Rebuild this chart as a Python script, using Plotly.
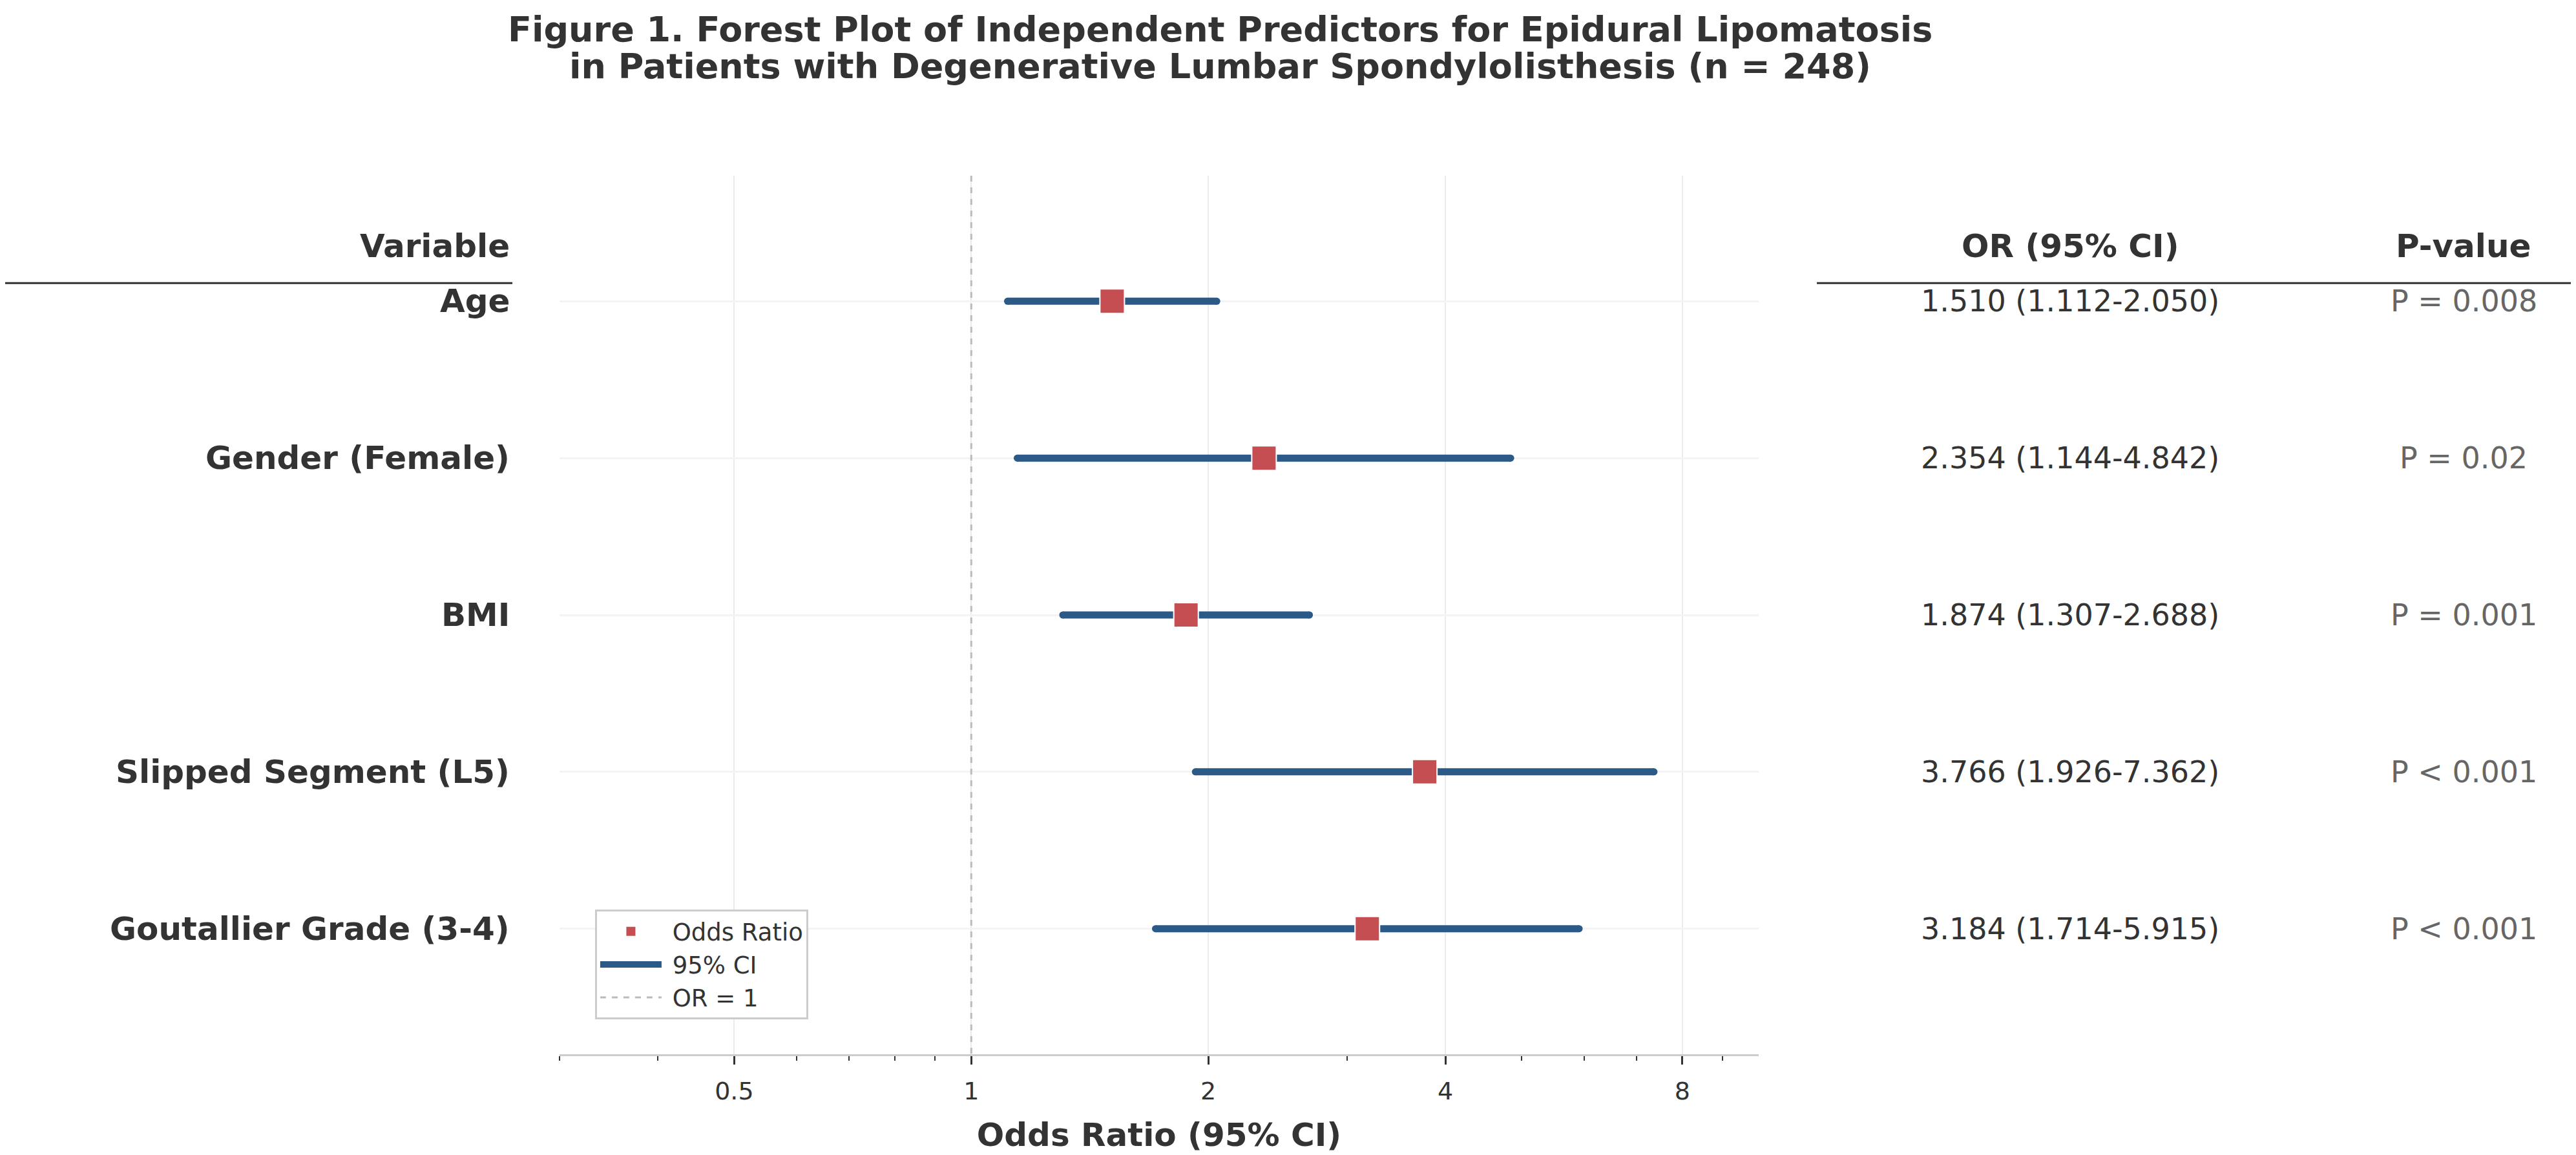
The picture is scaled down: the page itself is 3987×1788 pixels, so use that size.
import numpy as np
import plotly.graph_objects as go

# data
variables = ["Age", "Gender (Female)", "BMI", "Slipped Segment (L5)", "Goutallier Grade (3-4)"]
odds_ratio = [1.510, 2.354, 1.874, 3.766, 3.184]
ci_low = [1.112, 1.144, 1.307, 1.926, 1.714]
ci_high = [2.050, 4.842, 2.688, 7.362, 5.915]
p_text = ["P = 0.008", "P = 0.02", "P = 0.001", "P < 0.001", "P < 0.001"]
x_ticks = [0.5, 1, 2, 4, 8]
x_minor = [0.3, 0.4, 0.6, 0.7, 0.8, 0.9, 3, 5, 6, 7, 9]

RED = "#C44E52"
BLUE = "#2C5A88"
DARK = "#333333"
FONT = "DejaVu Sans"
NB = "\u00a0"  # small gap between legend symbol and label

rows = list(range(len(variables)))
y_lo, y_hi = -0.8, 4.8

fig = go.Figure()

# reference line at OR = 1
fig.add_trace(go.Scatter(
    x=[1, 1], y=[y_lo, y_hi], mode="lines", name=NB + "OR = 1",
    line=dict(color="#bbbbbb", width=3, dash="dash"),
))

# confidence intervals
ci_x, ci_y = [], []
for lo, hi, r in zip(ci_low, ci_high, rows):
    ci_x += [lo, hi, None]
    ci_y += [r, r, None]
fig.add_trace(go.Scatter(
    x=ci_x, y=ci_y, mode="lines", name=NB + "95% CI",
    line=dict(color=BLUE, width=11),
))
# round caps on the CI ends
fig.add_trace(go.Scatter(
    x=ci_low + ci_high, y=rows + rows, mode="markers", showlegend=False,
    marker=dict(color=BLUE, size=11, symbol="circle"), hoverinfo="skip",
))

# point estimates
fig.add_trace(go.Scatter(
    x=odds_ratio, y=rows, mode="markers", name=NB + "Odds Ratio",
    marker=dict(color=RED, size=38, symbol="square", line=dict(color="white", width=2)),
))

# left / right table text
x_var = -0.0404
x_or = 1.2597
x_p = 1.588
ann = []
for r, v, o, lo, hi, p in zip(rows, variables, odds_ratio, ci_low, ci_high, p_text):
    ann.append(dict(x=x_var, y=r, xref="paper", yref="y", text="<b>%s</b>" % v,
                    xanchor="right", yanchor="middle", showarrow=False,
                    font=dict(size=50, color=DARK, family=FONT)))
    ann.append(dict(x=x_or, y=r, xref="paper", yref="y",
                    text="%.3f (%.3f-%.3f)" % (o, lo, hi),
                    xanchor="center", yanchor="middle", showarrow=False,
                    font=dict(size=46, color=DARK, family=FONT)))
    ann.append(dict(x=x_p, y=r, xref="paper", yref="y", text=p,
                    xanchor="center", yanchor="middle", showarrow=False,
                    font=dict(size=46, color="#666666", family=FONT)))

y_head = -0.352
for txt, xx, anc in [("Variable", x_var, "right"), ("OR (95% CI)", x_or, "center"), ("P-value", x_p, "center")]:
    ann.append(dict(x=xx, y=y_head, xref="paper", yref="y", text="<b>%s</b>" % txt,
                    xanchor=anc, yanchor="middle", showarrow=False,
                    font=dict(size=50, color=DARK, family=FONT)))

# title, two lines (kept inside the top edge)
ann.append(dict(x=0.551, y=1.1915, xref="paper", yref="paper",
                text="<b>Figure 1. Forest Plot of Independent Predictors for Epidural Lipomatosis</b>",
                xanchor="center", yanchor="top", showarrow=False,
                font=dict(size=54, color=DARK, family=FONT)))
ann.append(dict(x=0.551, y=1.1490, xref="paper", yref="paper",
                text="<b>in Patients with Degenerative Lumbar Spondylolisthesis (n = 248)</b>",
                xanchor="center", yanchor="top", showarrow=False,
                font=dict(size=54, color=DARK, family=FONT)))

shapes = [
    dict(type="line", xref="paper", yref="y", x0=-0.4666, x1=-0.0393, y0=-0.115, y1=-0.115,
         line=dict(color=DARK, width=3)),
    dict(type="line", xref="paper", yref="y", x0=1.0485, x1=1.6816, y0=-0.115, y1=-0.115,
         line=dict(color=DARK, width=3)),
]

fig.update_layout(
    width=3979, height=1780,
    margin=dict(l=858, r=1265, t=264, b=148),
    paper_bgcolor="white", plot_bgcolor="white",
    font=dict(family=FONT, color=DARK),
    annotations=ann, shapes=shapes,
    legend=dict(x=0.0296, y=0.1645, xanchor="left", yanchor="top",
                bordercolor="#cccccc", borderwidth=3, bgcolor="white",
                font=dict(size=37, color=DARK, family=FONT),
                traceorder="reversed", itemwidth=95),
)

fig.update_xaxes(
    type="log", range=[np.log10(0.3), np.log10(10)],
    tickvals=x_ticks, ticktext=[str(t) for t in x_ticks],
    tickfont=dict(size=38, color=DARK), ticklabelstandoff=8,
    ticks="outside", ticklen=13, tickwidth=3, tickcolor=DARK,
    showline=True, linecolor="#cccccc", linewidth=3,
    showgrid=True, gridcolor="#ebebeb", gridwidth=2, zeroline=False,
    minor=dict(tickvals=x_minor, ticks="outside", ticklen=7, tickwidth=2,
               tickcolor=DARK, showgrid=False),
    title=dict(text="<b>Odds Ratio (95% CI)</b>", font=dict(size=50, color=DARK), standoff=30),
)
fig.update_yaxes(
    range=[y_hi, y_lo], tickvals=rows, showticklabels=False,
    showgrid=True, gridcolor="#f4f4f4", gridwidth=3, zeroline=False, showline=False,
)

fig.write_html("out.html")
